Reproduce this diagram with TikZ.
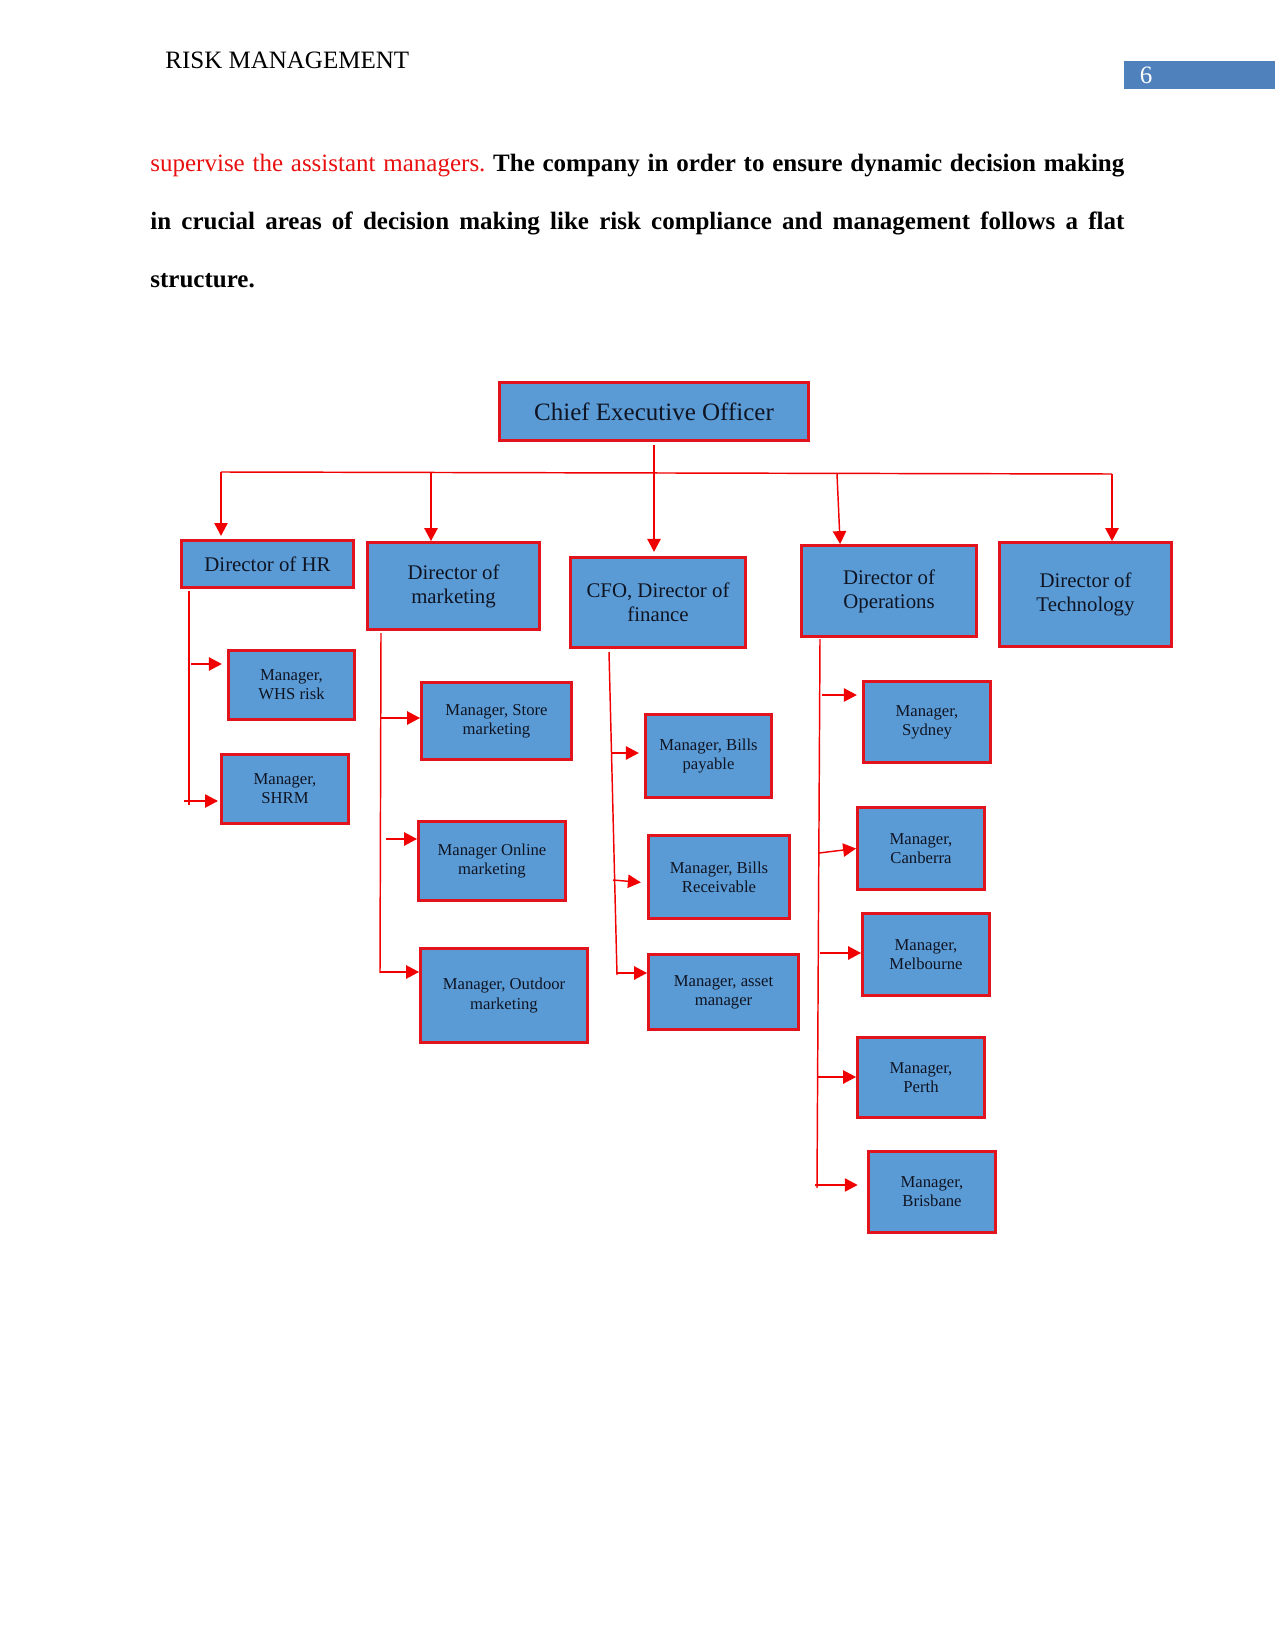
\documentclass[tikz,border=0pt]{standalone}
\usepackage{fontspec}
\setmainfont{Liberation Serif}
\usetikzlibrary{arrows.meta}
\definecolor{boxblue}{RGB}{91,155,213}
\definecolor{boxred}{RGB}{225,20,30}
\definecolor{arrred}{RGB}{240,0,0}
\definecolor{pageblue}{RGB}{79,129,189}
\definecolor{txtdark}{RGB}{15,20,35}
\definecolor{bodyred}{RGB}{232,16,16}
\newcommand{\bx}[7]{\node[#6, minimum width={(#4-#2-3)*0.48pt}, minimum height={(#5-#3-3)*0.48pt}] (#1) at ({(#2+#4)/2},{(#3+#5)/2}) {#7};}
\tikzset{
  orgbox/.style={draw=boxred, fill=boxblue, line width=1.4pt, inner sep=2pt, align=center, text=txtdark},
  dirbox/.style={orgbox, font=\fontsize{10}{11.6}\selectfont},
  ceobox/.style={orgbox, font=\fontsize{12}{14}\selectfont},
  mgrbox/.style={orgbox, font=\fontsize{8}{9.2}\selectfont},
  link/.style={draw=arrred, line width=0.7pt},
  arr/.style={link, -{Triangle[length=6.2pt,width=6.4pt]}},
  plain/.style={anchor=base west, inner sep=0pt, font=\fontsize{12}{14}\selectfont}
}
\begin{document}
\frenchspacing
\begin{tikzpicture}[x=0.48pt,y=-0.48pt]
\useasboundingbox (0,0) rectangle (1275,1650);
% header
\node[plain] (hdr) at (165,69) {RISK MANAGEMENT};
\fill[pageblue] (1124,61) rectangle (1275,89);
\node[inner sep=0pt, text=white, font=\fontsize{12}{14}\selectfont] (pgno) at (1146,75) {6};
% body text
\node[plain] (l1) at (150,172) {\makebox[467.5pt][s]{\textcolor{bodyred}{supervise the assistant managers.} \textbf{The company in order to ensure dynamic decision making}}};
\node[plain] (l2) at (150,230) {\makebox[467.5pt][s]{\bfseries in crucial areas of decision making like risk compliance and management follows a flat}};
\node[plain] (l3) at (150,288) {\bfseries structure.};
% boxes
\bx{ceo}{498}{381}{810}{442}{ceobox}{Chief Executive Officer}
\bx{hr}{180}{539}{355}{589}{dirbox}{Director of HR}
\bx{mkt}{366}{541}{541}{631}{dirbox}{Director of\\marketing}
\bx{cfo}{569}{556}{747}{649}{dirbox}{CFO, Director of\\finance}
\bx{ops}{800}{544}{978}{638}{dirbox}{Director of\\Operations}
\bx{tech}{998}{541}{1173}{648}{dirbox}{Director of\\Technology}
\bx{whs}{227}{649}{356}{721}{mgrbox}{Manager,\\WHS risk}
\bx{shrm}{220}{753}{350}{825}{mgrbox}{Manager,\\SHRM}
\bx{store}{420}{681}{573}{761}{mgrbox}{Manager, Store\\marketing}
\bx{online}{417}{820}{567}{902}{mgrbox}{Manager Online\\marketing}
\bx{outdoor}{419}{947}{589}{1044}{mgrbox}{Manager, Outdoor\\marketing}
\bx{pay}{644}{713}{773}{799}{mgrbox}{Manager, Bills\\payable}
\bx{rec}{647}{834}{791}{920}{mgrbox}{Manager, Bills\\Receivable}
\bx{asset}{647}{953}{800}{1031}{mgrbox}{Manager, asset\\manager}
\bx{syd}{862}{680}{992}{764}{mgrbox}{Manager,\\Sydney}
\bx{can}{856}{806}{986}{891}{mgrbox}{Manager,\\Canberra}
\bx{mel}{861}{912}{991}{997}{mgrbox}{Manager,\\Melbourne}
\bx{per}{856}{1036}{986}{1119}{mgrbox}{Manager,\\Perth}
\bx{bri}{867}{1150}{997}{1234}{mgrbox}{Manager,\\Brisbane}
% top bus
\coordinate (busL) at (221,472);
\coordinate (busM) at (431,473);
\coordinate (busO) at (837,474);
\coordinate (busR) at (1112,474);
\draw[link] (busL) -- (busR);
\draw[arr, shorten >=1.5pt] (busL) -- (busL |- hr.north);
\draw[arr] (busM) -- (busM |- mkt.north);
\draw[arr] (busO) -- ([xshift=1.5pt]busO |- ops.north);
\draw[arr] (busR) -- (busR |- tech.north);
\draw[arr, shorten <=1.5pt, shorten >=2pt] (ceo.south) -- (ceo.south |- cfo.north);
% HR trunk
\coordinate (hrT) at (189,591);
\coordinate (hrB) at (189,805);
\draw[link] (hrT) -- (hrB);
\coordinate (hrW) at (191,664);
\coordinate (hrS) at (184,801);
\draw[arr, shorten >=2.5pt] (hrW) -- (hrW -| whs.west);
\draw[arr, shorten >=1pt] (hrS) -- (hrS -| shrm.west);
% marketing trunk
\coordinate (mT) at (381,633);
\coordinate (mB) at (380,973);
\draw[link] (mT) -- (mB);
\coordinate (mS) at (381,718);
\coordinate (mO) at (386,839);
\coordinate (mD) at (380,972);
\draw[arr] (mS) -- (mS -| store.west);
\draw[arr] (mO) -- (mO -| online.west);
\draw[arr] (mD) -- (mD -| outdoor.west);
% finance trunk
\coordinate (fT) at (609,652);
\coordinate (fB) at (617,975);
\draw[link] (fT) -- (fB);
\coordinate (fP) at (612,753);
\coordinate (fR) at (613,880);
\coordinate (fA) at (617,973);
\draw[arr, shorten >=2.5pt] (fP) -- (fP -| pay.west);
\draw[arr, shorten >=3pt] (fR) -- ([yshift=-1.4pt]fR -| rec.west);
\draw[arr] (fA) -- (fA -| asset.west);
% operations trunk
\coordinate (oT) at (820,639);
\coordinate (oB) at (817,1188);
\draw[link] (oT) -- (oB);
\coordinate (oS) at (822,695);
\coordinate (oC) at (819,853);
\coordinate (oM) at (820,953);
\coordinate (oP) at (817,1077);
\coordinate (oR) at (815,1185);
\draw[arr, shorten >=2.5pt] (oS) -- (oS -| syd.west);
\draw[arr] (oC) -- (can.west);
\draw[arr] (oM) -- (oM -| mel.west);
\draw[arr] (oP) -- (oP -| per.west);
\draw[arr, shorten >=4.5pt] (oR) -- (oR -| bri.west);
\end{tikzpicture}
\end{document}
